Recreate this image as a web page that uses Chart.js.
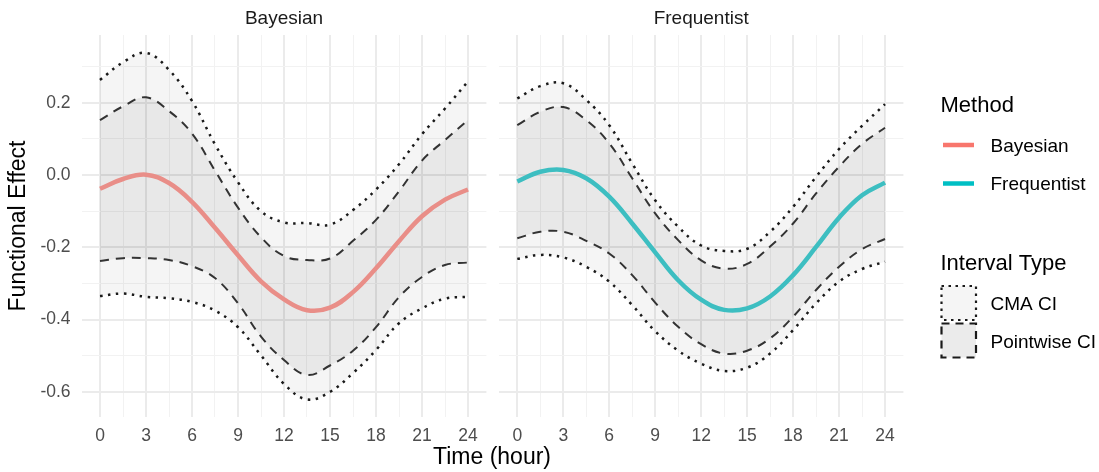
<!DOCTYPE html>
<html>
<head>
<meta charset="utf-8">
<script src="https://cdn.jsdelivr.net/npm/chart.js@4.4.1/dist/chart.umd.min.js"></script>
<style>
  body { margin: 0; background: #ffffff; }
  #wrap { position: relative; width: 1099px; height: 472px; overflow: hidden; }
  canvas { position: absolute; top: 0; }
  #xtitle {
    position: absolute; left: 392px; width: 200px; top: 445px;
    text-align: center; font: 23px/23px "Liberation Sans", Arial, sans-serif; color: #000;
  }
</style>
</head>
<body>
<div id="wrap">
  <canvas id="bayes" width="490" height="472" style="left:0"></canvas>
  <canvas id="freq" width="609" height="472" style="left:490px"></canvas>
  <div id="xtitle">Time (hour)</div>
</div>
<script>
const hours = [0, 1.5, 3, 4.5, 6, 7.5, 9, 10.5, 12, 13.5, 15, 16.5, 18, 19.5, 21, 22.5, 24];

const bayesMean     = [-0.038, -0.011, 0.001, -0.022, -0.074, -0.146, -0.222, -0.294, -0.344, -0.374, -0.367, -0.324, -0.258, -0.183, -0.114, -0.068, -0.040];
const bayesPwUpper  = [0.152, 0.190, 0.215, 0.177, 0.115, 0.012, -0.090, -0.172, -0.224, -0.235, -0.231, -0.182, -0.124, -0.045, 0.040, 0.097, 0.152];
const bayesPwLower  = [-0.238, -0.230, -0.230, -0.235, -0.252, -0.285, -0.355, -0.447, -0.512, -0.553, -0.527, -0.486, -0.421, -0.338, -0.282, -0.249, -0.242];
const bayesCmaUpper = [0.263, 0.312, 0.338, 0.291, 0.205, 0.085, -0.020, -0.100, -0.131, -0.133, -0.137, -0.097, -0.040, 0.030, 0.113, 0.184, 0.259];
const bayesCmaLower = [-0.335, -0.328, -0.337, -0.341, -0.351, -0.375, -0.421, -0.499, -0.578, -0.621, -0.600, -0.548, -0.484, -0.410, -0.369, -0.342, -0.337];

const freqMean     = [-0.018, 0.009, 0.014, -0.009, -0.060, -0.134, -0.214, -0.291, -0.345, -0.373, -0.369, -0.336, -0.277, -0.199, -0.118, -0.056, -0.021];
const freqPwUpper  = [0.138, 0.175, 0.188, 0.152, 0.088, -0.009, -0.106, -0.180, -0.236, -0.259, -0.246, -0.198, -0.134, -0.051, 0.023, 0.086, 0.131];
const freqPwLower  = [-0.175, -0.157, -0.157, -0.182, -0.217, -0.277, -0.353, -0.420, -0.468, -0.494, -0.486, -0.452, -0.392, -0.318, -0.254, -0.205, -0.177];
const freqCmaUpper = [0.212, 0.246, 0.254, 0.208, 0.138, 0.032, -0.070, -0.143, -0.195, -0.210, -0.204, -0.157, -0.088, -0.005, 0.072, 0.136, 0.196];
const freqCmaLower = [-0.232, -0.221, -0.228, -0.254, -0.295, -0.360, -0.432, -0.486, -0.522, -0.542, -0.533, -0.494, -0.429, -0.355, -0.295, -0.260, -0.240];

// axis ticks
const xMajor = [0, 3, 6, 9, 12, 15, 18, 21, 24];
const xTickLabels = ["0", "3", "6", "9", "12", "15", "18", "21", "24"];
const xMinor = [1.5, 4.5, 7.5, 10.5, 13.5, 16.5, 19.5, 22.5];
const yMajor = [-0.6, -0.4, -0.2, 0, 0.2];
const yTickLabels = ["-0.6", "-0.4", "-0.2", "0.0", "0.2"];
const yMinor = [-0.5, -0.3, -0.1, 0.1, 0.3];

const methodNames = ["Bayesian", "Frequentist"];
const methodColors = ["#F8766D", "#00BFC4"];
const panelLineColors = ["#E98E88", "#3DBEC1"];
const intervalNames = ["CMA CI", "Pointwise CI"];

const FONT = '"Liberation Sans", Arial, sans-serif';
Chart.defaults.font.family = FONT;

function points(values) {
    return hours.map((h, i) => ({ x: h, y: values[i] }));
}

function isMajor(list, v) {
    return list.some((m) => Math.abs(m - v) < 1e-6);
}

function labelFor(list, labels, v) {
    const i = list.findIndex((m) => Math.abs(m - v) < 1e-6);
    return i >= 0 ? labels[i] : "";
}

const stripLabel = {
    id: "stripLabel",
    afterDraw(chart, args, opts) {
        const { ctx, chartArea } = chart;
        ctx.save();
        ctx.font = "19px " + FONT;
        ctx.fillStyle = "#1A1A1A";
        ctx.textAlign = "center";
        ctx.textBaseline = "alphabetic";
        ctx.fillText(opts.text, (chartArea.left + chartArea.right) / 2, 23.5);
        ctx.restore();
    }
};

const sideLegend = {
    id: "sideLegend",
    afterDraw(chart, args, opts) {
        if (!opts.show) return;
        const ctx = chart.ctx;
        const ox = opts.offsetX;
        ctx.save();
        ctx.fillStyle = "#000";
        ctx.textBaseline = "alphabetic";
        ctx.font = "22px " + FONT;
        ctx.fillText("Method", 940.5 - ox, 111.5);

        ctx.font = "19px " + FONT;
        methodNames.forEach((name, i) => {
            const y = 145 + i * 38.5;
            ctx.strokeStyle = methodColors[i];
            ctx.lineWidth = 4.5;
            ctx.setLineDash([]);
            ctx.beginPath();
            ctx.moveTo(943 - ox, y);
            ctx.lineTo(974 - ox, y);
            ctx.stroke();
            ctx.fillStyle = "#000";
            ctx.fillText(name, 990.5 - ox, y + 6.7);
        });

        ctx.font = "22px " + FONT;
        ctx.fillText("Interval Type", 940.5 - ox, 270);

        const boxes = [
            { y: 286, fill: "#F5F5F5", dash: [2.5, 4.5] },
            { y: 323.5, fill: "#EBEBEB", dash: [8, 6] }
        ];
        ctx.font = "19px " + FONT;
        boxes.forEach((b, i) => {
            ctx.fillStyle = b.fill;
            ctx.fillRect(941.5 - ox, b.y, 34.5, 34);
            ctx.strokeStyle = "#1A1A1A";
            ctx.lineWidth = 2.2;
            ctx.setLineDash(b.dash);
            ctx.strokeRect(941.5 - ox, b.y, 34.5, 34);
            ctx.setLineDash([]);
            ctx.fillStyle = "#000";
            ctx.fillText(intervalNames[i], 990.5 - ox, b.y + 24);
        });
        ctx.restore();
    }
};

function buildDatasets(mean, pwU, pwL, cmaU, cmaL, color) {
    const base = { pointRadius: 0, tension: 0.4, fill: false };
    return [
        { ...base, label: "mean", data: points(mean), borderColor: color, borderWidth: 4.5 },
        { ...base, label: "pw upper", data: points(pwU), borderColor: "#333333", borderWidth: 2,
          borderDash: [9, 7], fill: { target: 2 }, backgroundColor: "rgba(0,0,0,0.055)" },
        { ...base, label: "pw lower", data: points(pwL), borderColor: "#333333", borderWidth: 2,
          borderDash: [9, 7] },
        { ...base, label: "cma upper", data: points(cmaU), borderColor: "#1A1A1A", borderWidth: 2.5,
          borderDash: [2.5, 5.5], fill: { target: 4 }, backgroundColor: "rgba(0,0,0,0.04)" },
        { ...base, label: "cma lower", data: points(cmaL), borderColor: "#1A1A1A", borderWidth: 2.5,
          borderDash: [2.5, 5.5] }
    ];
}

function makePanel(canvasId, datasets, title, opts) {
    return new Chart(document.getElementById(canvasId), {
        type: "line",
        data: { datasets: datasets },
        options: {
            responsive: false,
            animation: false,
            devicePixelRatio: 1,
            layout: { padding: { left: opts.padLeft, right: opts.padRight, top: 35, bottom: 0 } },
            plugins: {
                legend: { display: false },
                tooltip: { enabled: false },
                filler: { drawTime: "beforeDatasetsDraw" },
                stripLabel: { text: title },
                sideLegend: { show: opts.legend, offsetX: opts.offsetX }
            },
            scales: {
                x: {
                    type: "linear",
                    min: -1.2,
                    max: 25.2,
                    afterBuildTicks: (scale) => {
                        scale.ticks = [...xMajor, ...xMinor].sort((a, b) => a - b).map((v) => ({ value: v }));
                    },
                    afterFit: (scale) => { scale.height = 55; },
                    border: { display: false },
                    grid: {
                        drawTicks: false,
                        color: (c) => isMajor(xMajor, c.tick.value) ? "#EBEBEB" : "#F2F2F2",
                        lineWidth: (c) => isMajor(xMajor, c.tick.value) ? 2 : 1
                    },
                    ticks: {
                        autoSkip: false,
                        maxRotation: 0,
                        padding: 9,
                        color: "#4D4D4D",
                        font: { size: 17.5 },
                        callback: (v) => labelFor(xMajor, xTickLabels, v)
                    }
                },
                y: {
                    type: "linear",
                    min: -0.6695,
                    max: 0.3875,
                    afterBuildTicks: (scale) => {
                        scale.ticks = [...yMajor, ...yMinor].sort((a, b) => a - b).map((v) => ({ value: v }));
                    },
                    afterFit: (scale) => { scale.width = opts.yWidth; },
                    border: { display: false },
                    grid: {
                        drawTicks: false,
                        color: (c) => isMajor(yMajor, c.tick.value) ? "#EBEBEB" : "#F2F2F2",
                        lineWidth: (c) => isMajor(yMajor, c.tick.value) ? 2 : 1
                    },
                    ticks: {
                        display: opts.yLabels,
                        autoSkip: false,
                        padding: 11,
                        color: "#4D4D4D",
                        font: { size: 17.5 },
                        callback: (v) => labelFor(yMajor, yTickLabels, v)
                    },
                    title: {
                        display: opts.yLabels,
                        text: "Functional Effect",
                        color: "#000",
                        font: { size: 23 },
                        padding: { top: 5, bottom: 0 }
                    }
                }
            }
        },
        plugins: [stripLabel, sideLegend]
    });
}

makePanel("bayes",
    buildDatasets(bayesMean, bayesPwUpper, bayesPwLower, bayesCmaUpper, bayesCmaLower, panelLineColors[0]),
    "Bayesian",
    { padLeft: 0, padRight: 3.6, yWidth: 81.6, yLabels: true, legend: false, offsetX: 0 });

makePanel("freq",
    buildDatasets(freqMean, freqPwUpper, freqPwLower, freqCmaUpper, freqCmaLower, panelLineColors[1]),
    "Frequentist",
    { padLeft: 8.9, padRight: 195.6, yWidth: 0, yLabels: false, legend: true, offsetX: 490 });
</script>
</body>
</html>
